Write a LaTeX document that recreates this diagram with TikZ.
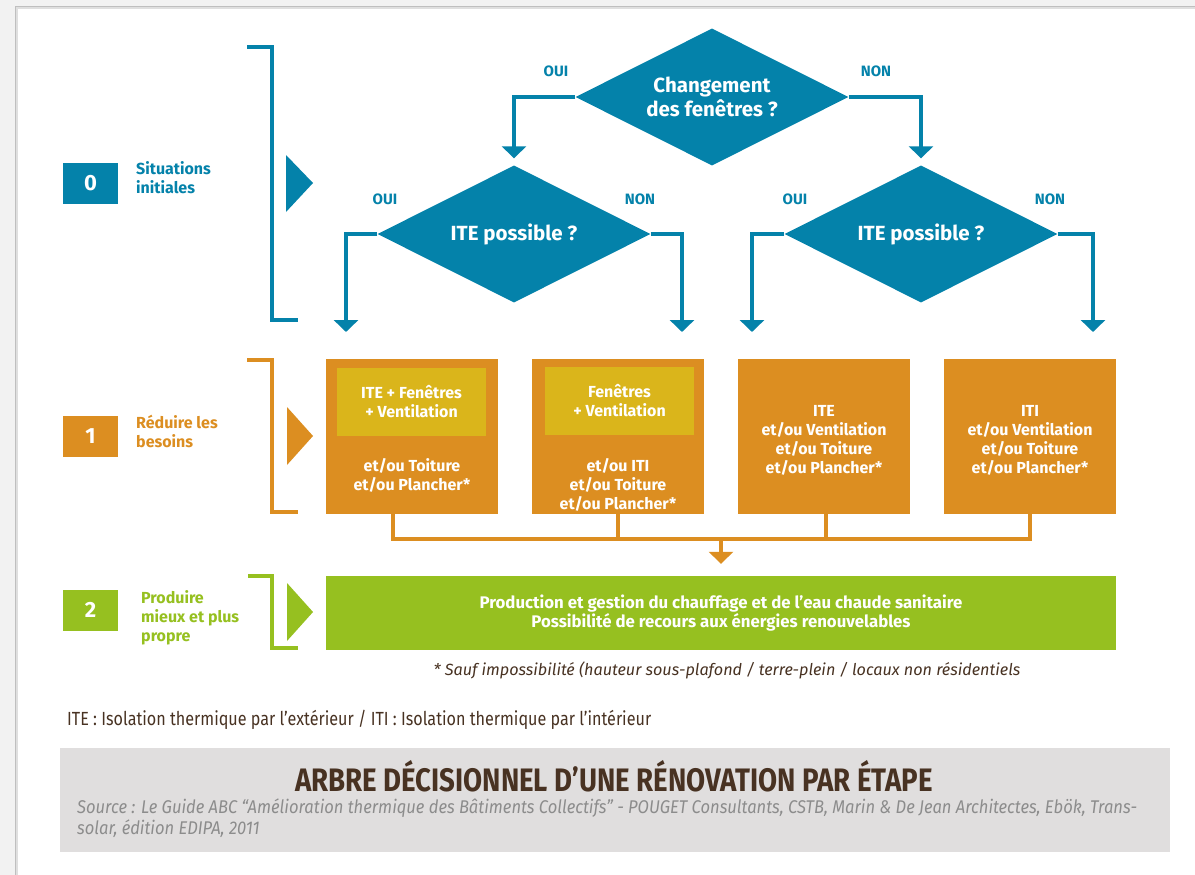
\documentclass[tikz,border=0pt]{standalone}
\usepackage{fontspec}
\setmainfont{Fira Sans}
\newfontfamily\narrowfont[FakeStretch=0.85]{Fira Sans}
\newfontfamily\sourcefont[FakeStretch=0.9]{Fira Sans}
\usepackage{tikz}
\usetikzlibrary{arrows.meta, shapes.geometric}
\definecolor{bleu}{RGB}{4,130,170}
\definecolor{orange}{RGB}{220,142,33}
\definecolor{jaune}{RGB}{218,181,27}
\definecolor{vert}{RGB}{150,192,32}
\definecolor{brun}{RGB}{72,50,34}
\definecolor{grisfond}{RGB}{224,222,222}
\definecolor{grissource}{RGB}{140,140,140}
\definecolor{page}{RGB}{242,242,242}

\begin{document}
\begin{tikzpicture}[x=1pt, y=-1pt,
  txt/.style={font=\fontsize{16}{19}\selectfont\bfseries, text=white, align=center, inner sep=0},
  question/.style={diamond, aspect=2, fill=bleu, minimum width=273pt, minimum height=137pt, inner sep=0,
    txt, font=\fontsize{20.5}{23.5}\selectfont\bfseries},
  choice/.style={font=\fontsize{15}{18}\selectfont\bfseries, text=bleu, inner sep=0},
  stepbox/.style={fill=#1, minimum width=55pt, minimum height=41pt, inner sep=0,
    txt, font=\fontsize{22}{26}\selectfont\bfseries},
  steplabel/.style={font=\fontsize{16}{19}\selectfont\bfseries, text=#1, align=left, anchor=west, inner sep=0},
  action/.style={fill=orange, minimum width=172pt, minimum height=155pt, inner sep=0},
  innerbox/.style={fill=jaune, minimum width=149pt, minimum height=68pt, inner sep=0, txt},
  bflow/.style={draw=bleu, line width=4pt, -{Triangle[width=24pt, length=12pt]}},
  oline/.style={draw=orange, line width=4pt},
  oflow/.style={oline, -{Triangle[width=24pt, length=12pt]}},
  bracket/.style={draw=#1, line width=4pt}]
\useasboundingbox (0,0) rectangle (1195,875);
\fill[page] (0,0) rectangle (1195,875);
\fill[gray!50] (15,6) rectangle (1195,875);
\fill[gray!25] (16,7) rectangle (1195,875);
\fill[white] (18,9) rectangle (1195,875);

% etape 0
\node[stepbox=bleu] (s0) at (90.5,183) {0};
\node[steplabel=bleu] (l0) at (136,178) {Situations\\initiales};
\draw[bracket=bleu] (247,47) -| (272,320) -- (298,320);
\fill[bleu] (286,155) -- (313,183) -- (286,212) -- cycle;

\node[question] (chg) at (712,97) {Changement\\des fenêtres ?};
\node[question] (ite1) at (514,234) {ITE possible ?};
\node[question] (ite2) at (921,234) {ITE possible ?};
\node[choice] (o0) at (556,71) {OUI};
\node[choice] (n0) at (876,71) {NON};
\node[choice] (o1) at (385,199) {OUI};
\node[choice] (n1) at (640,199) {NON};
\node[choice] (o2) at (795,199) {OUI};
\node[choice] (n2) at (1050,199) {NON};

\draw[bflow, shorten >=7pt] (chg.west) -| (ite1.north);
\draw[bflow, shorten >=7pt] (chg.east) -| (ite2.north);
\coordinate (a1) at (346,332);
\coordinate (a2) at (682,332);
\coordinate (a3) at (752,332);
\coordinate (a4) at (1093,332);
\draw[bflow] (ite1.west) -| (a1);
\draw[bflow] (ite1.east) -| (a2);
\draw[bflow] (ite2.west) -| (a3);
\draw[bflow] (ite2.east) -| (a4);

% etape 1
\node[stepbox=orange] (s1) at (90.5,436) {1};
\node[steplabel=orange] (l1) at (136,431) {Réduire les\\besoins};
\draw[bracket=orange] (247,360) -| (272,512) -- (298,512);
\fill[orange] (287,407) -- (313,436) -- (287,465) -- cycle;

\node[action] (b1) at (412,436.5) {};
\node[action] (b2) at (618,436.5) {};
\node[action] (b3) at (824,436.5) {};
\node[action] (b4) at (1030,436.5) {};
\node[innerbox] (i1) at (411.5,402) {ITE + Fenêtres\\+ Ventilation};
\node[innerbox] (i2) at (619.5,401) {Fenêtres\\+ Ventilation};
\node[txt] (t1) at (412,475) {et/ou Toiture\\et/ou Plancher*};
\node[txt] (t2) at (618,485) {et/ou ITI\\et/ou Toiture\\et/ou Plancher*};
\node[txt] (t3) at (824,440.5) {ITE\\et/ou Ventilation\\et/ou Toiture\\et/ou Plancher*};
\node[txt] (t4) at (1030,440.5) {ITI\\et/ou Ventilation\\et/ou Toiture\\et/ou Plancher*};

\coordinate (bus) at (721,539);
\draw[oline] ([xshift=-19pt]b1.south) |- (bus -| b4.south) -- (b4.south);
\draw[oline] (b2.south) -- (b2.south |- bus);
\draw[oline] ([xshift=2pt]b3.south) -- ([xshift=2pt]b3.south |- bus);

% etape 2
\node[stepbox=vert] (s2) at (90.5,610) {2};
\node[steplabel=vert] (l2) at (141,618) {Produire\\mieux et plus\\propre};
\draw[bracket=vert] (248,576) -| (272,648) -- (298,648);
\fill[vert] (287,583) -- (313,612) -- (287,641) -- cycle;

\node[fill=vert, minimum width=790pt, minimum height=74pt, inner sep=0, txt, font=\fontsize{16.8}{19.5}\selectfont\bfseries] (prod) at (721,613)
  {Production et gestion du chauffage et de l’eau chaude sanitaire\\Possibilité de recours aux énergies renouvelables};
\draw[oflow, shorten >=12pt] (bus) -- (prod.north);

\node[font=\fontsize{16.2}{19}\selectfont\itshape, text=brun, inner sep=0] (note) at (727,670)
  {* Sauf impossibilité (hauteur sous-plafond / terre-plein / locaux non résidentiels};
\node[font=\fontsize{19}{22}\selectfont\narrowfont, text=brun, anchor=west, inner sep=0] (sigles) at (67,720)
  {ITE : Isolation thermique par l’extérieur / ITI : Isolation thermique par l’intérieur};

% titre et source
\node[fill=grisfond, minimum width=1110pt, minimum height=104pt, inner sep=0] (cadre) at (615,800) {};
\node[font=\fontsize{32.5}{38}\selectfont\narrowfont\bfseries, text=brun, inner sep=0] (titre) at (614,776)
  {ARBRE DÉCISIONNEL D’UNE RÉNOVATION PAR ÉTAPE};
\node[font=\fontsize{18.4}{21}\selectfont\sourcefont\itshape, text=grissource, align=left, anchor=north west, inner sep=0] (source) at (77,799)
  {Source : Le Guide ABC “Amélioration thermique des Bâtiments Collectifs” - POUGET Consultants, CSTB, Marin \& De Jean Architectes, Ebök, Trans-\\solar, édition EDIPA, 2011};
\end{tikzpicture}
\end{document}
